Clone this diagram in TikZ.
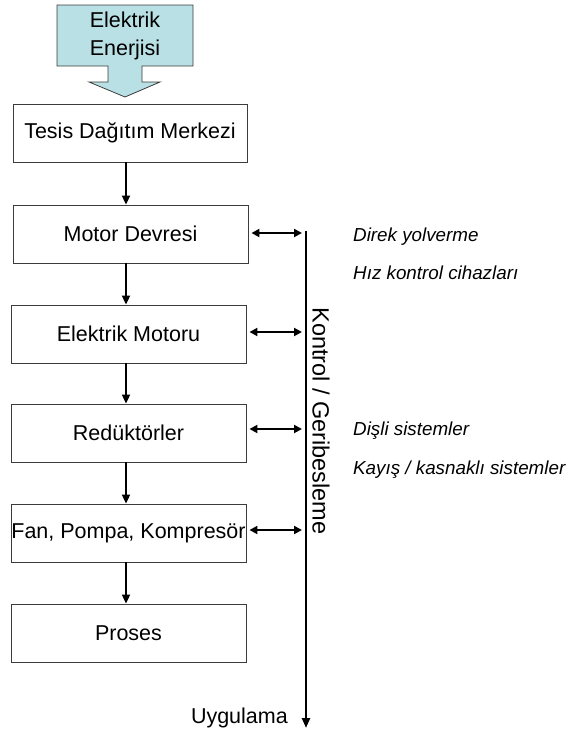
\documentclass[tikz,border=0pt]{standalone}
\usepackage{fontspec}
\setmainfont{Liberation Sans}
\usetikzlibrary{arrows.meta}
\definecolor{calloutfill}{RGB}{185,224,228}
\definecolor{edgegray}{RGB}{60,60,60}
\begin{document}
\begin{tikzpicture}[x=1pt,y=-1pt,
  stage/.style={draw=edgegray, line width=0.9pt, inner sep=0pt,
    minimum width=235pt, minimum height=58pt,
    font=\fontsize{21.5}{25}\selectfont},
  flow/.style={line width=2pt, -{Triangle[length=9pt,width=8pt]}},
  link/.style={line width=2pt, {Triangle[length=8pt,width=8pt]}-{Triangle[length=8pt,width=8pt]},
    shorten <=3pt, shorten >=4pt},
  bus/.style={line width=2.4pt, -{Triangle[length=10pt,width=8pt]}},
  note/.style={anchor=base west, inner sep=0pt, font=\fontsize{18.8}{22}\selectfont\itshape},
  label/.style={inner sep=0pt, font=\fontsize{21.5}{25}\selectfont}]
  \useasboundingbox (0,0) rectangle (568,734);

  % incoming energy: down-arrow callout
  \draw[draw=edgegray, line width=0.8pt, fill=calloutfill]
    (57,5) -- (193,5) -- (193,66) -- (142,66) -- (142,82) -- (160,82)
    -- (125,97) -- (89,82) -- (108,82) -- (108,66) -- (57,66) -- cycle;
  \node[label, align=center, font=\fontsize{21.5}{28}\selectfont] (energy) at (125,36) {Elektrik\\Enerjisi};

  % chain of stages
  \node[stage, minimum width=234pt] (tesis) at (130,133) {Tesis Dağıtım Merkezi};
  \node[stage] (motor) at (130.5,234) {Motor Devresi};
  \node[stage] (emotor) at (128.5,334) {Elektrik Motoru};
  \node[stage] (reduktor) at (128.5,433) {Redüktörler};
  \node[stage] (fan) at (128.5,533) {Fan, Pompa, Kompresör};
  \node[stage] (proses) at (128.5,633) {Proses};

  \coordinate (xaxis) at (126,0);
  \draw[flow] (tesis.south -| xaxis) -- (motor.north -| xaxis);
  \draw[flow] (motor.south -| xaxis) -- (emotor.north -| xaxis);
  \draw[flow] (emotor.south -| xaxis) -- (reduktor.north -| xaxis);
  \draw[flow] (reduktor.south -| xaxis) -- (fan.north -| xaxis);
  \draw[flow] (fan.south -| xaxis) -- (proses.north -| xaxis);

  % control / feedback bus
  \coordinate (bustop) at (306,231);
  \coordinate (busend) at (306,728);
  \draw[bus] (bustop) -- (busend);

  \draw[link] ([yshift=1pt]motor.east) -- ([yshift=1pt]motor.east -| bustop);
  \draw[link] ([yshift=2pt]emotor.east) -- ([yshift=2pt]emotor.east -| bustop);
  \draw[link] ([yshift=4pt]reduktor.east) -- ([yshift=4pt]reduktor.east -| bustop);
  \draw[link] ([yshift=3pt]fan.east) -- ([yshift=3pt]fan.east -| bustop);

  \node[label, rotate=-90, font=\fontsize{23.5}{27}\selectfont] (kontrol) at (321,421) {Kontrol / Geribesleme};
  \node[label, anchor=base east] (uygulama) at (288,723) {Uygulama};

  % notes beside the bus
  \node[note] (direk) at (353,241) {Direk yolverme};
  \node[note] (hiz) at (353,279) {Hız kontrol cihazları};
  \node[note] (disli) at (353,435) {Dişli sistemler};
  \node[note] (kayis) at (353,474) {Kayış / kasnaklı sistemler};
\end{tikzpicture}
\end{document}
